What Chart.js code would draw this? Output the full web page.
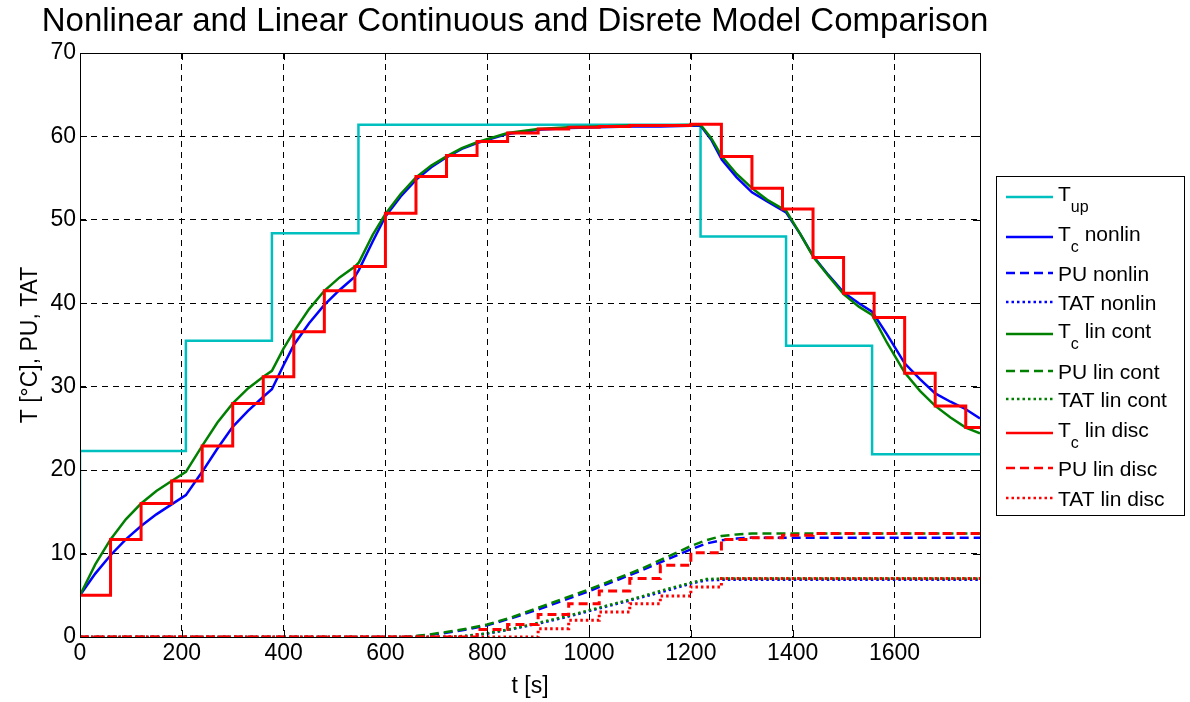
<!DOCTYPE html>
<html>
<head>
<meta charset="utf-8">
<title>Model Comparison</title>
<script src="https://cdn.jsdelivr.net/npm/chart.js@4.4.0/dist/chart.umd.min.js"></script>
<style>
  html, body { margin: 0; padding: 0; background: #fff; }
  #wrap { width: 1190px; height: 702px; position: relative; }
</style>
</head>
<body>
<div id="wrap"><canvas id="cmp"></canvas></div>
<script>
// input temperature (zero-order hold)
const tUp = [0, 0, 208, 377, 547, 1219, 1387, 1556, 1768];
const upVals = [5, 22.3, 35.5, 48.4, 61.4, 48.0, 34.9, 21.9, 21.9];

// continuous models, Tc
const tCont = [0, 30, 60, 90, 120, 150, 180, 208, 240, 270, 300, 330, 360, 377, 400, 420, 450, 480, 510, 540,
  548, 575, 600, 630, 660, 690, 720, 750, 780, 840, 900, 960, 1020, 1080, 1140, 1219, 1240, 1261, 1290, 1320,
  1350, 1387, 1415, 1441, 1470, 1500, 1530, 1556, 1585, 1620, 1650, 1680, 1710, 1740, 1768];
const tcNonlin = [5.0, 7.6, 9.8, 11.7, 13.3, 14.7, 15.9, 17.0, 19.8, 22.6, 25.2, 27.1, 28.8, 29.7, 32.6, 35.0, 37.6, 39.8, 41.6, 43.2,
  44.0, 47.4, 50.4, 52.8, 54.8, 56.3, 57.5, 58.5, 59.2, 60.3, 60.8, 61.0, 61.1, 61.2, 61.2, 61.3, 59.6, 57.2, 55.1, 53.3,
  52.2, 50.9, 48.3, 45.6, 43.4, 41.3, 40.0, 39.0, 36.3, 32.8, 30.9, 29.2, 28.2, 27.3, 26.2];
const tcLinCont = [5.0, 8.7, 11.7, 14.1, 16.0, 17.5, 18.7, 19.8, 22.9, 25.7, 28.0, 29.8, 31.2, 31.9, 34.6, 36.6, 39.3, 41.5, 43.1, 44.4,
  44.9, 48.2, 50.7, 53.1, 55.1, 56.5, 57.6, 58.6, 59.3, 60.4, 60.9, 61.1, 61.2, 61.3, 61.3, 61.4, 59.8, 57.6, 55.5, 53.8,
  52.4, 51.1, 48.3, 45.5, 43.3, 41.1, 39.6, 38.6, 35.3, 31.7, 29.5, 27.7, 26.3, 25.1, 24.4];

// continuous models, PU and TAT
const tPu = [0, 640, 680, 720, 760, 800, 850, 900, 950, 1000, 1050, 1100, 1150, 1200, 1230, 1260, 1290, 1320, 1768];
const puNonlin = [0, 0, 0.2, 0.5, 0.9, 1.4, 2.3, 3.3, 4.4, 5.5, 6.7, 7.9, 9.2, 10.5, 11.2, 11.6, 11.8, 11.9, 11.9];
const puLinCont = [0, 0, 0.25, 0.6, 1.0, 1.5, 2.4, 3.5, 4.6, 5.7, 6.9, 8.1, 9.5, 10.9, 11.6, 12.1, 12.3, 12.4, 12.4];
const tTat = [0, 720, 760, 800, 850, 900, 950, 1000, 1050, 1100, 1150, 1200, 1230, 1260, 1768];
const tatNonlin = [0, 0, 0.12, 0.4, 0.95, 1.6, 2.3, 3.1, 3.9, 4.7, 5.5, 6.4, 6.8, 6.85, 6.85];
const tatLinCont = [0, 0, 0.15, 0.45, 1.0, 1.7, 2.4, 3.2, 4.0, 4.8, 5.7, 6.5, 6.95, 7.0, 7.0];

// discrete model, 60 s sample time
const tDisc = [0, 60, 120, 180, 240, 300, 360, 420, 480, 540, 600, 660, 720, 780, 840, 900, 960, 1020, 1080, 1140,
  1200, 1260, 1320, 1380, 1440, 1500, 1560, 1620, 1680, 1740, 1768];
const tcLinDisc = [5.0, 11.7, 16.0, 18.7, 22.9, 28.0, 31.2, 36.6, 41.5, 44.4, 50.8, 55.2, 57.7, 59.4, 60.4, 60.9, 61.1, 61.2, 61.3, 61.3,
  61.45, 57.6, 53.8, 51.3, 45.5, 41.2, 38.3, 31.6, 27.7, 25.1, 25.1];
const tPuDisc = [0, 780, 840, 900, 960, 1020, 1080, 1140, 1200, 1260, 1320, 1380, 1440, 1768];
const puLinDisc = [0, 0.9, 1.5, 2.7, 4.0, 5.5, 7.0, 8.6, 10.1, 11.7, 11.9, 12.2, 12.4, 12.4];
const tTatDisc = [0, 900, 960, 1020, 1080, 1140, 1200, 1260, 1768];
const tatLinDisc = [0, 1.0, 2.0, 3.0, 4.0, 4.9, 6.0, 7.0, 7.0];

const xTicks = [0, 200, 400, 600, 800, 1000, 1200, 1400, 1600];
const yTicks = [0, 10, 20, 30, 40, 50, 60, 70];
const tEnd = 1768;

const FONT = "'Liberation Sans', Arial, Helvetica, sans-serif";
const CYAN = '#00BFBF', BLUE = '#0000FF', GREEN = '#008000', RED = '#FF0000';
const DASH = [9, 5], DOT = [2.5, 3];

function pts(ts, vs) {
  return ts.map((t, i) => ({ x: t, y: vs[i] }));
}

function line(label, ts, vs, color, dash, stepped, order, width) {
  return {
    label: label,
    data: pts(ts, vs),
    borderColor: color,
    backgroundColor: color,
    borderWidth: width || 2.5,
    borderDash: dash,
    stepped: stepped,
    tension: 0,
    pointRadius: 0,
    fill: false,
    order: order
  };
}

// legend rows: main text, subscript, rest
const legendRows = [
  ['T', 'up', ''],
  ['T', 'c', ' nonlin'],
  ['PU nonlin', '', ''],
  ['TAT nonlin', '', ''],
  ['T', 'c', ' lin cont'],
  ['PU lin cont', '', ''],
  ['TAT lin cont', '', ''],
  ['T', 'c', ' lin disc'],
  ['PU lin disc', '', ''],
  ['TAT lin disc', '', '']
];
const legendY = [197, 237, 273, 302, 334, 371, 399, 433, 468, 498];

const decorations = {
  id: 'decorations',
  afterDatasetsDraw(chart) {
    const ctx = chart.ctx;
    const a = chart.chartArea;
    const xs = chart.scales.x, ys = chart.scales.y;
    ctx.save();
    ctx.strokeStyle = '#000';
    ctx.lineWidth = 1;
    ctx.setLineDash([]);
    // inward tick marks on all four sides
    ctx.beginPath();
    xTicks.forEach(v => {
      const px = Math.round(xs.getPixelForValue(v)) + 0.5;
      ctx.moveTo(px, a.bottom); ctx.lineTo(px, a.bottom - 7);
      ctx.moveTo(px, a.top); ctx.lineTo(px, a.top + 7);
    });
    yTicks.forEach(v => {
      const py = Math.round(ys.getPixelForValue(v)) + 0.5;
      ctx.moveTo(a.left, py); ctx.lineTo(a.left + 7, py);
      ctx.moveTo(a.right, py); ctx.lineTo(a.right - 7, py);
    });
    ctx.stroke();
    ctx.strokeRect(Math.round(a.left) + 0.5, Math.round(a.top) + 0.5,
      Math.round(a.right - a.left), Math.round(a.bottom - a.top));
    ctx.restore();
  },
  afterDraw(chart) {
    const ctx = chart.ctx;
    ctx.save();
    // title
    ctx.fillStyle = '#000';
    ctx.font = '33px ' + FONT;
    ctx.textAlign = 'center';
    ctx.textBaseline = 'alphabetic';
    ctx.fillText('Nonlinear and Linear Continuous and Disrete Model Comparison', 515, 31);

    // legend box
    const bx = 996, by = 176, bw = 188, bh = 339;
    ctx.fillStyle = '#fff';
    ctx.fillRect(bx, by, bw, bh);
    ctx.strokeStyle = '#000';
    ctx.lineWidth = 1;
    ctx.strokeRect(bx + 0.5, by + 0.5, bw, bh);
    ctx.textAlign = 'left';
    const sets = chart.data.datasets;
    legendRows.forEach((row, i) => {
      const ds = sets[i];
      const y = legendY[i];
      ctx.strokeStyle = ds.borderColor;
      ctx.lineWidth = 2.5;
      ctx.setLineDash(ds.borderDash || []);
      ctx.beginPath();
      ctx.moveTo(1006, y);
      ctx.lineTo(1053, y);
      ctx.stroke();
      ctx.setLineDash([]);
      ctx.fillStyle = '#000';
      let x = 1058;
      if (row[1]) {
        const base = y + 4;
        ctx.font = '21px ' + FONT;
        ctx.fillText(row[0], x, base);
        x += ctx.measureText(row[0]).width;
        ctx.font = '16px ' + FONT;
        ctx.fillText(row[1], x, base + 11);
        x += ctx.measureText(row[1]).width;
        ctx.font = '21px ' + FONT;
        ctx.fillText(row[2], x, base);
      } else {
        ctx.font = '21px ' + FONT;
        ctx.fillText(row[0], x, y + 8);
      }
    });
    ctx.restore();
  }
};

const datasets = [
  line('T_up', tUp, upVals, CYAN, [], true, 10),
  line('T_c nonlin', tCont, tcNonlin, BLUE, [], false, 9),
  line('PU nonlin', tPu, puNonlin, BLUE, DASH, false, 8),
  line('TAT nonlin', tTat, tatNonlin, BLUE, DOT, false, 7),
  line('T_c lin cont', tCont, tcLinCont, GREEN, [], false, 6),
  line('PU lin cont', tPu, puLinCont, GREEN, DASH, false, 5),
  line('TAT lin cont', tTat, tatLinCont, GREEN, DOT, false, 4),
  line('T_c lin disc', tDisc, tcLinDisc, RED, [], true, 3, 3),
  line('PU lin disc', tPuDisc, puLinDisc, RED, DASH, true, 2, 3),
  line('TAT lin disc', tTatDisc, tatLinDisc, RED, DOT, true, 1, 3)
];

new Chart(document.getElementById('cmp'), {
  type: 'line',
  data: { datasets: datasets },
  plugins: [decorations],
  options: {
    responsive: true,
    maintainAspectRatio: false,
    animation: false,
    events: [],
    layout: { padding: { top: 53, right: 210, bottom: 0, left: 0 } },
    plugins: {
      legend: { display: false },
      tooltip: { enabled: false },
      title: { display: false }
    },
    scales: {
      x: {
        type: 'linear',
        min: 0,
        max: tEnd,
        afterFit(scale) { scale.height = 65; },
        afterBuildTicks(scale) { scale.ticks = xTicks.map(v => ({ value: v })); },
        ticks: {
          color: '#000',
          padding: 3,
          maxRotation: 0,
          font: { family: FONT, size: 23 },
          callback: v => String(v)
        },
        grid: { color: '#000', lineWidth: 1, drawTicks: false },
        border: { display: false, dash: [6, 5] },
        title: {
          display: true,
          text: 't [s]',
          color: '#000',
          font: { family: FONT, size: 23 },
          padding: { top: 0, bottom: 2 }
        }
      },
      y: {
        type: 'linear',
        min: 0,
        max: 70,
        afterFit(scale) { scale.width = 80; },
        afterBuildTicks(scale) { scale.ticks = yTicks.map(v => ({ value: v })); },
        ticks: {
          color: '#000',
          padding: 4,
          font: { family: FONT, size: 23 },
          callback: v => String(v)
        },
        grid: { color: '#000', lineWidth: 1, drawTicks: false },
        border: { display: false, dash: [6, 5] },
        title: {
          display: true,
          text: 'T [°C], PU, TAT',
          color: '#000',
          font: { family: FONT, size: 23 },
          padding: { top: 17, bottom: 0 }
        }
      }
    }
  }
});
</script>
</body>
</html>
